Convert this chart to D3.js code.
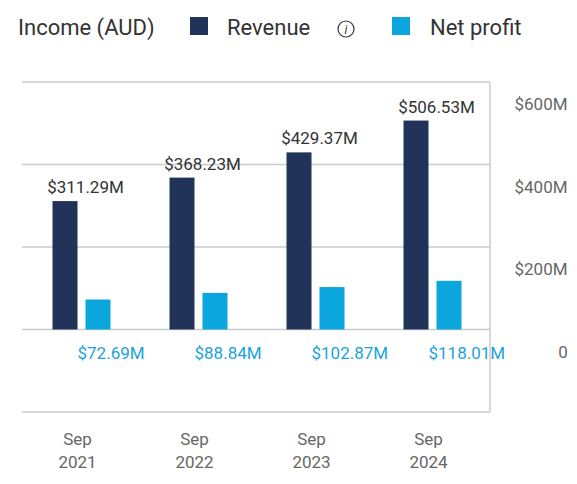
<!DOCTYPE html>
<html><head><meta charset="utf-8">
<script src="https://cdn.jsdelivr.net/npm/d3@7"></script>
<style>
body{margin:0;background:#fff;font-family:Roboto,"Noto Sans",sans-serif;}
</style></head>
<body><div id="chart"></div>
<script>
var years = ["2021", "2022", "2023", "2024"];
var revenue = [311.29, 368.23, 429.37, 506.53];
var netProfit = [72.69, 88.84, 102.87, 118.01];
var yTicks = [0, 200, 400, 600];

var svg = d3.select("#chart").append("svg").attr("width", 577).attr("height", 484);

// legend
svg.append("text").attr("x", 18).attr("y", 35).attr("font-size", 22).attr("fill", "#333").text("Income (AUD)");
svg.append("rect").attr("x", 190).attr("y", 17).attr("width", 18).attr("height", 18).attr("fill", "#22335a");
svg.append("text").attr("x", 227).attr("y", 35).attr("font-size", 22).attr("fill", "#333").text("Revenue");
svg.append("circle").attr("cx", 346).attr("cy", 29).attr("r", 8).attr("fill", "none").attr("stroke", "#333").attr("stroke-width", 1.2);
svg.append("text").attr("x", 346).attr("y", 34).attr("text-anchor", "middle").attr("font-size", 12).attr("font-style", "italic").attr("fill", "#333").text("i");
svg.append("rect").attr("x", 392).attr("y", 17).attr("width", 18).attr("height", 18).attr("fill", "#0aa6dd");
svg.append("text").attr("x", 430).attr("y", 35).attr("font-size", 22).attr("fill", "#333").text("Net profit");

var x = d3.scaleBand().domain(years).range([22, 490]).paddingInner(0).paddingOuter(0);
var y = d3.scaleLinear().domain([-200, 600]).range([412, 82]);

// gridlines
svg.append("g").selectAll("line").data([-200, 0, 200, 400, 600]).enter().append("line")
    .attr("x1", 22).attr("x2", 490).attr("y1", d => y(d)).attr("y2", d => y(d))
    .attr("stroke", "#c8ccd2").attr("stroke-width", 1.5);
svg.append("line").attr("x1", 490).attr("x2", 490).attr("y1", 82).attr("y2", 412).attr("stroke", "#c8ccd2").attr("stroke-width", 1.5);

// right axis labels
svg.append("g").selectAll("text").data(yTicks).enter().append("text")
    .attr("x", d => d === 0 ? 563 : 541).attr("y", d => y(d) + 28)
    .attr("text-anchor", "middle").attr("font-size", 17).attr("fill", "#666")
    .text(d => d === 0 ? "0" : "$" + d + "M");

var barW = 25;
var rev = svg.append("g").selectAll("rect").data(years).enter().append("rect")
    .attr("x", d => x(d) + x.bandwidth() / 2 - 28).attr("width", barW)
    .attr("y", (d, i) => y(revenue[i])).attr("height", (d, i) => y(0) - y(revenue[i]))
    .attr("fill", "#22335a");
svg.append("g").selectAll("rect").data(years).enter().append("rect")
    .attr("x", d => x(d) + x.bandwidth() / 2 + 5).attr("width", barW)
    .attr("y", (d, i) => y(netProfit[i])).attr("height", (d, i) => y(0) - y(netProfit[i]))
    .attr("fill", "#0aa6dd");

// value labels
svg.append("g").selectAll("text").data(years).enter().append("text")
    .attr("x", d => x(d) + x.bandwidth() / 2 + 5).attr("y", (d, i) => y(revenue[i]) - 8)
    .attr("text-anchor", "middle").attr("font-size", 17).attr("fill", "#333")
    .text((d, i) => "$" + revenue[i].toFixed(2) + "M");
svg.append("g").selectAll("text").data(years).enter().append("text")
    .attr("x", d => x(d) + x.bandwidth() / 2 - 3).attr("y", y(0) + 29)
    .attr("font-size", 17).attr("fill", "#1aa3dc")
    .text((d, i) => "$" + netProfit[i].toFixed(2) + "M");

// category labels
var cat = svg.append("g").selectAll("text").data(years).enter().append("text")
    .attr("x", d => x(d) + x.bandwidth() / 2 - 3).attr("y", 445)
    .attr("text-anchor", "middle").attr("font-size", 17).attr("fill", "#666");
cat.append("tspan").attr("x", d => x(d) + x.bandwidth() / 2 - 3).text("Sep");
cat.append("tspan").attr("x", d => x(d) + x.bandwidth() / 2 - 3).attr("dy", 23).text(d => d);
</script></body></html>
